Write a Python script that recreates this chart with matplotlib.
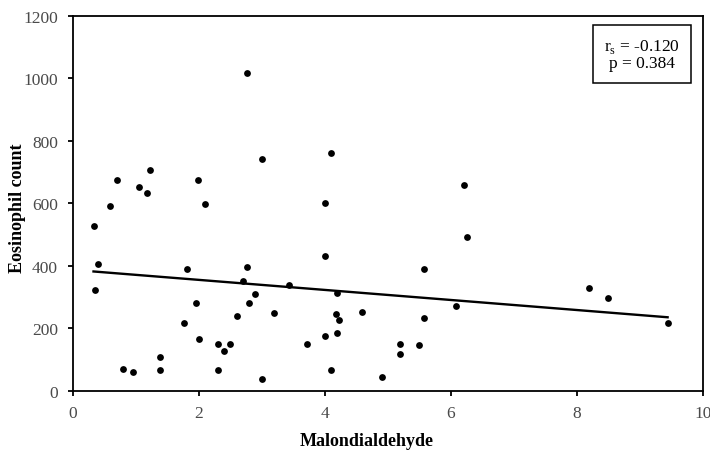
import matplotlib
matplotlib.use("Agg")
import matplotlib.pyplot as plt
import numpy as np

# Malondialdehyde vs eosinophil count
mda = [0.33, 0.36, 0.405, 0.59, 0.70, 0.80, 0.95, 1.045, 1.18, 1.22,
       1.39, 1.39, 1.77, 1.81, 1.95, 1.995, 2.0, 2.10, 2.31, 2.31,
       2.40, 2.50, 2.60, 2.70, 2.77, 2.77, 2.79, 2.90, 3.0, 3.0,
       3.19, 3.44, 3.72, 4.0, 4.0, 4.0, 4.10, 4.10, 4.18, 4.19,
       4.19, 4.22, 4.59, 4.90, 5.19, 5.19, 5.50, 5.58, 5.58, 6.09,
       6.21, 6.26, 8.20, 8.49, 9.44]
eos = [527, 323, 404, 591, 674, 69, 60, 651, 633, 706,
       108, 66, 216, 391, 280, 674, 165, 599, 149, 66,
       128, 149, 240, 350, 1018, 397, 282, 309, 740, 39,
       248, 338, 149, 600, 431, 175, 760, 66, 245, 312,
       186, 227, 253, 45, 151, 117, 146, 391, 234, 272,
       658, 493, 328, 296, 216]

rs_text = "r$_\\mathrm{s}$ = -0.120\np = 0.384"

plt.rcParams['font.family'] = ['Liberation Serif', 'DejaVu Serif']
plt.rcParams['mathtext.fontset'] = 'custom'
plt.rcParams['mathtext.rm'] = 'Liberation Serif'

fig = plt.figure(figsize=(7.1, 4.52), dpi=100)
ax = fig.add_axes([0.1024, 0.1334, 0.8876, 0.8296])

x = np.array(mda)
y = np.array(eos)
ax.scatter(x, y, s=24, color='black', zorder=3, linewidths=0)

# least squares trend line
slope, icpt = np.polyfit(x, y, 1)
xs = np.array([x.min(), x.max()])
ax.plot(xs, icpt + slope * xs, color='black', lw=1.7)

ax.set_xlim(0, 10)
ax.set_ylim(0, 1200)
ax.set_xticks(range(0, 11, 2))
ax.set_yticks(range(0, 1201, 200))
ax.tick_params(direction='out', length=3.5, width=1.3, labelsize=12.5,
               color='black', labelcolor='#4a4a4a')
ax.tick_params(axis='x', pad=7)
ax.tick_params(axis='y', pad=7)
for sp in ax.spines.values():
    sp.set_linewidth(1.3)

ax.set_xlabel("Malondialdehyde", fontsize=13, fontweight='bold')
ax.set_ylabel("Eosinophil count", fontsize=13, fontweight='bold')
# labels sit a little off-centre in the original
ax.xaxis.set_label_coords(0.467, -0.110)
ax.yaxis.set_label_coords(-0.074, 0.49)

ax.text(0.903, 0.897, rs_text, transform=ax.transAxes, ha='center', va='center',
        fontsize=12.5, linespacing=1.0,
        bbox=dict(boxstyle='square,pad=0.65', facecolor='white', edgecolor='black', lw=1.1))

fig.savefig("out.png", dpi=100)
